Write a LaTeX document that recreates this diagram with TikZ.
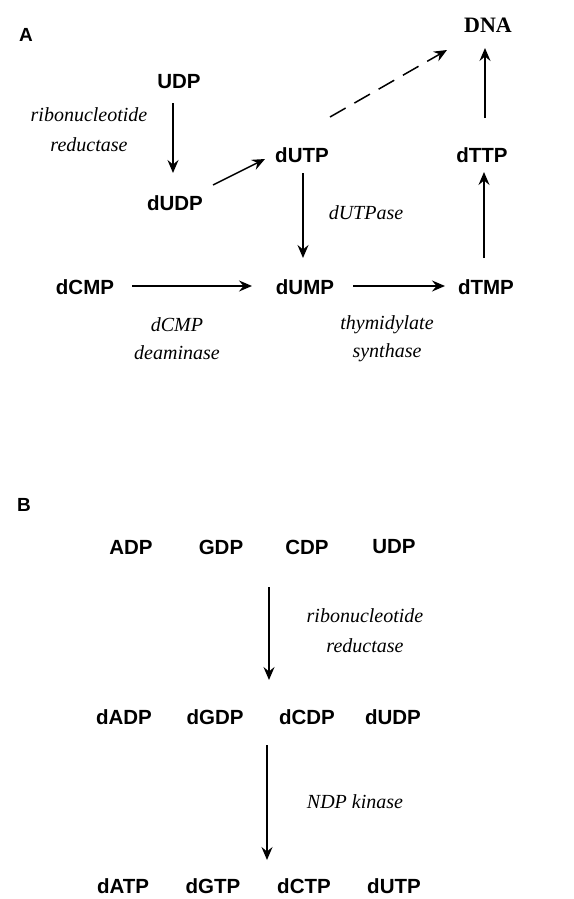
\documentclass[tikz,border=0pt]{standalone}
\usepackage{fontspec}
\setmainfont{Liberation Serif}
\newfontfamily\cpdfont{Liberation Sans}
\usetikzlibrary{arrows.meta}
\begin{document}
\begin{tikzpicture}[x=1pt,y=-1pt,
  cpd/.style={font=\cpdfont\fontsize{20.5}{22}\selectfont\bfseries, inner sep=2pt},
  enz/.style={font=\fontsize{20}{30}\selectfont\itshape, align=center, inner sep=0pt},
  arr/.style={-{Stealth[length=13pt,width=11pt,inset=4.5pt]}, line width=1.5pt},
  panel/.style={font=\cpdfont\fontsize{19}{20}\selectfont\bfseries}]
\useasboundingbox[fill=white] (0,0) rectangle (573,899);
% Panel A
\node[panel] (pa) at (26,35) {A};
\node[font=\fontsize{22}{24}\selectfont\bfseries] (dna) at (488,25) {DNA};
\node[cpd] (udp) at (179,82) {UDP};
\node[cpd] (dudp) at (175,203) {dUDP};
\node[cpd] (dutp) at (302,155) {dUTP};
\node[cpd] (dttp) at (482,155) {dTTP};
\node[cpd] (dcmp) at (85,287) {dCMP};
\node[cpd] (dump) at (305,287) {dUMP};
\node[cpd] (dtmp) at (486,287) {dTMP};
\node[enz] (rr1) at (89,130) {ribonucleotide\\reductase};
\node[enz] (dutpase) at (366,213) {dUTPase};
\node[enz, font=\fontsize{20}{28}\selectfont\itshape] (dcd) at (177,339) {dCMP\\deaminase};
\node[enz, font=\fontsize{20}{28}\selectfont\itshape] (ts) at (387,339) {thymidylate\\synthase};
\draw[arr] ([xshift=-6pt,yshift=-21pt]udp.center) -- ([xshift=-2pt,yshift=30pt]dudp.center);
\draw[arr] ([xshift=38pt,yshift=18pt]dudp.center) -- ([xshift=-37pt,yshift=-4pt]dutp.center);
\draw[arr, dash pattern=on 18pt off 10pt] ([xshift=28pt,yshift=38pt]dutp.center) -- ([xshift=-41pt,yshift=-25pt]dna.center);
\draw[arr] ([xshift=3pt,yshift=37pt]dttp.center) -- ([xshift=-3pt,yshift=-23pt]dna.center);
\draw[arr] ([xshift=1pt,yshift=-18pt]dutp.center) -- ([xshift=-2pt,yshift=29pt]dump.center);
\draw[arr] ([xshift=-2pt,yshift=29pt]dtmp.center) -- ([xshift=2pt,yshift=-17pt]dttp.center);
\draw[arr] ([xshift=47pt,yshift=1pt]dcmp.center) -- ([xshift=-53pt,yshift=1pt]dump.center);
\draw[arr] ([xshift=48pt,yshift=1pt]dump.center) -- ([xshift=-41pt,yshift=1pt]dtmp.center);
% Panel B
\node[panel] (pb) at (24,505) {B};
\node[cpd] (adp) at (131,547) {ADP};
\node[cpd] (gdp) at (221,547) {GDP};
\node[cpd] (cdp) at (307,547) {CDP};
\node[cpd] (udpb) at (394,547) {UDP};
\node[cpd] (dadp) at (124,717) {dADP};
\node[cpd] (dgdp) at (215,717) {dGDP};
\node[cpd] (dcdp) at (307,717) {dCDP};
\node[cpd] (dudpb) at (393,717) {dUDP};
\node[cpd] (datp) at (123,886) {dATP};
\node[cpd] (dgtp) at (213,886) {dGTP};
\node[cpd] (dctp) at (304,886) {dCTP};
\node[cpd] (dutpb) at (394,886) {dUTP};
\node[enz] (rr2) at (365,631) {ribonucleotide\\reductase};
\node[enz] (ndpk) at (355,802) {NDP kinase};
\draw[arr] ([xshift=-38pt,yshift=-40pt]cdp.center) -- ([xshift=-38pt,yshift=37pt]dcdp.center);
\draw[arr] ([xshift=-40pt,yshift=-28pt]dcdp.center) -- ([xshift=-37pt,yshift=26pt]dctp.center);
\end{tikzpicture}
\end{document}
